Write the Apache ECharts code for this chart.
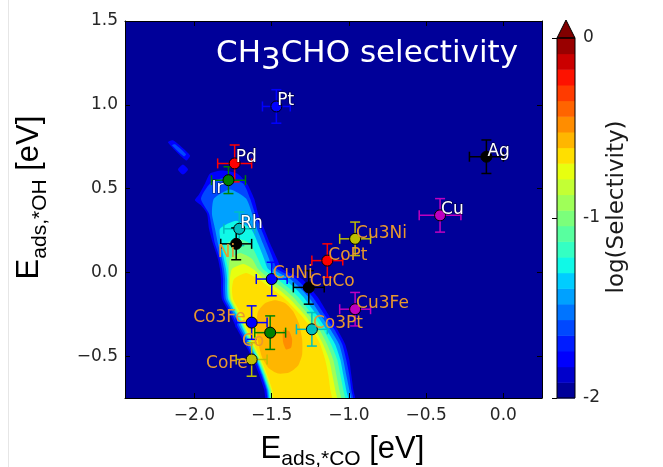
<!DOCTYPE html>
<html>
<head>
    <meta charset="UTF-8">
    <title>CH3CHO selectivity</title>
    <style>html,body{margin:0;background:#fff;}</style>
</head>
<body>
    <div id="main" style="width: 663px;height:467px;"></div>
    <script src="https://cdn.jsdelivr.net/npm/echarts@6/dist/echarts.min.js"></script>
    <script type="text/javascript">
        // catalysts: adsorption energies (eV) and error bars
        const metals = ['Pt', 'Pd', 'Ir', 'Ag', 'Rh', 'Ni', 'Cu', 'Cu3Ni', 'CoPt', 'CuNi', 'CuCo', 'Cu3Fe', 'Co3Fe', 'Co', 'Co3Pt', 'CoFe'];
        const eCO  = [-1.47, -1.74, -1.78, -0.11, -1.71, -1.73, -0.41, -0.96, -1.14, -1.50, -1.26, -0.96, -1.63, -1.51, -1.24, -1.63];
        const eOH  = [0.99, 0.65, 0.55, 0.69, 0.26, 0.17, 0.34, 0.20, 0.07, -0.04, -0.09, -0.22, -0.30, -0.36, -0.34, -0.52];
        const errCO = [0.09, 0.11, 0.11, 0.11, 0.10, 0.10, 0.135, 0.10, 0.10, 0.10, 0.10, 0.10, 0.10, 0.10, 0.10, 0.10];
        const errOH = [0.10, 0.11, 0.08, 0.10, 0.10, 0.095, 0.10, 0.10, 0.10, 0.10, 0.10, 0.10, 0.10, 0.10, 0.10, 0.10];

        const xTicks = [-2.0, -1.5, -1.0, -0.5, 0.0];
        const yTicks = [-0.5, 0.0, 0.5, 1.0, 1.5];

        // contour levels of log(selectivity)
        const levels = [-2.000, -1.913, -1.826, -1.739, -1.652, -1.565, -1.478, -1.391, -1.304, -1.217, -1.130, -1.043,
            -0.957, -0.870, -0.783, -0.696, -0.609, -0.522, -0.435, -0.348, -0.261, -0.174, -0.087, 0.000];

        // filled contour outlines (E_CO, E_OH), outer to inner
        const c2 = [[-1.822,0.608],[-1.724,0.59],[-1.660,0.53],[-1.614,0.44],[-1.588,0.35],[-1.549,0.26],[-1.510,0.17],[-1.465,0.08],[-1.433,0.02],[-1.303,-0.04],[-1.245,-0.10],[-1.193,-0.16],[-1.134,-0.25],[-1.076,-0.34],[-1.024,-0.43],[-0.998,-0.52],[-0.985,-0.61],[-0.972,-0.70],[-0.959,-0.80],[-1.523,-0.80],[-1.549,-0.70],[-1.582,-0.61],[-1.621,-0.52],[-1.672,-0.43],[-1.724,-0.34],[-1.770,-0.25],[-1.822,-0.16],[-1.828,-0.10],[-1.828,-0.04],[-1.835,0.02],[-1.848,0.08],[-1.880,0.17],[-1.906,0.26],[-1.919,0.35],[-1.958,0.40],[-1.997,0.43],[-1.971,0.464],[-1.932,0.53],[-1.899,0.59]];
        const c4 = [[-1.802,0.566],[-1.685,0.53],[-1.640,0.44],[-1.608,0.35],[-1.569,0.26],[-1.530,0.17],[-1.491,0.08],[-1.465,0.02],[-1.342,-0.04],[-1.277,-0.10],[-1.225,-0.16],[-1.160,-0.25],[-1.095,-0.34],[-1.043,-0.43],[-1.018,-0.52],[-0.998,-0.61],[-0.985,-0.70],[-0.972,-0.80],[-1.510,-0.80],[-1.536,-0.70],[-1.569,-0.61],[-1.608,-0.52],[-1.660,-0.43],[-1.711,-0.34],[-1.757,-0.25],[-1.809,-0.16],[-1.815,-0.10],[-1.815,-0.04],[-1.822,0.02],[-1.835,0.08],[-1.867,0.17],[-1.887,0.26],[-1.906,0.35],[-1.958,0.44],[-1.899,0.53]];
        const c6 = [[-1.770,0.494],[-1.666,0.44],[-1.627,0.35],[-1.595,0.26],[-1.556,0.17],[-1.517,0.08],[-1.491,0.02],[-1.381,-0.04],[-1.309,-0.10],[-1.251,-0.16],[-1.186,-0.25],[-1.121,-0.34],[-1.063,-0.43],[-1.037,-0.52],[-1.018,-0.61],[-0.998,-0.70],[-0.985,-0.80],[-1.504,-0.80],[-1.530,-0.70],[-1.562,-0.61],[-1.601,-0.52],[-1.647,-0.43],[-1.698,-0.34],[-1.744,-0.25],[-1.796,-0.16],[-1.802,-0.10],[-1.802,-0.04],[-1.809,0.02],[-1.822,0.08],[-1.848,0.17],[-1.867,0.26],[-1.887,0.35],[-1.874,0.44]];
        const c8 = [[-1.731,0.308],[-1.634,0.26],[-1.588,0.17],[-1.549,0.08],[-1.523,0.02],[-1.420,-0.04],[-1.342,-0.10],[-1.284,-0.16],[-1.212,-0.25],[-1.147,-0.34],[-1.089,-0.43],[-1.056,-0.52],[-1.037,-0.61],[-1.018,-0.70],[-1.004,-0.80],[-1.497,-0.80],[-1.523,-0.70],[-1.556,-0.61],[-1.595,-0.52],[-1.640,-0.43],[-1.685,-0.34],[-1.731,-0.25],[-1.783,-0.16],[-1.789,-0.10],[-1.789,-0.04],[-1.796,0.02],[-1.809,0.08],[-1.828,0.17],[-1.835,0.26]];
        const c10 = [[-1.718,0.20],[-1.640,0.17],[-1.588,0.08],[-1.556,0.02],[-1.465,-0.04],[-1.381,-0.10],[-1.316,-0.16],[-1.238,-0.25],[-1.167,-0.34],[-1.115,-0.43],[-1.076,-0.52],[-1.056,-0.61],[-1.037,-0.70],[-1.024,-0.80],[-1.491,-0.80],[-1.517,-0.70],[-1.549,-0.61],[-1.588,-0.52],[-1.634,-0.43],[-1.679,-0.34],[-1.724,-0.25],[-1.776,-0.16],[-1.783,-0.10],[-1.783,-0.04],[-1.783,0.02],[-1.796,0.08],[-1.796,0.17]];
        const c12 = [[-1.705,0.116],[-1.627,0.08],[-1.588,0.02],[-1.510,-0.04],[-1.420,-0.10],[-1.348,-0.16],[-1.264,-0.25],[-1.193,-0.34],[-1.141,-0.43],[-1.102,-0.52],[-1.082,-0.61],[-1.063,-0.70],[-1.050,-0.80],[-1.484,-0.80],[-1.510,-0.70],[-1.543,-0.61],[-1.582,-0.52],[-1.627,-0.43],[-1.672,-0.34],[-1.718,-0.25],[-1.770,-0.16],[-1.776,-0.10],[-1.776,-0.04],[-1.776,0.02],[-1.770,0.08]];
        const c14 = [[-1.685,0.05],[-1.621,0.02],[-1.549,-0.04],[-1.458,-0.10],[-1.381,-0.16],[-1.290,-0.25],[-1.219,-0.34],[-1.167,-0.43],[-1.128,-0.52],[-1.108,-0.61],[-1.089,-0.70],[-1.076,-0.80],[-1.478,-0.80],[-1.504,-0.70],[-1.536,-0.61],[-1.575,-0.52],[-1.621,-0.43],[-1.666,-0.34],[-1.711,-0.25],[-1.763,-0.16],[-1.770,-0.10],[-1.770,-0.04],[-1.757,0.02]];
        const c15 = [[-1.666,-0.004],[-1.588,-0.04],[-1.497,-0.10],[-1.413,-0.16],[-1.316,-0.25],[-1.238,-0.34],[-1.186,-0.43],[-1.154,-0.52],[-1.134,-0.61],[-1.121,-0.70],[-1.108,-0.80],[-1.471,-0.80],[-1.497,-0.70],[-1.530,-0.61],[-1.569,-0.52],[-1.614,-0.43],[-1.660,-0.34],[-1.698,-0.25],[-1.750,-0.16],[-1.757,-0.10],[-1.744,-0.04]];
        const c16 = [[-1.588,-0.232],[-1.543,-0.184],[-1.478,-0.166],[-1.413,-0.184],[-1.361,-0.232],[-1.322,-0.31],[-1.303,-0.40],[-1.303,-0.49],[-1.329,-0.556],[-1.387,-0.598],[-1.458,-0.604],[-1.517,-0.574],[-1.562,-0.508],[-1.588,-0.418],[-1.601,-0.322]];
        const c17 = [[-1.426,-0.346],[-1.387,-0.352],[-1.368,-0.40],[-1.374,-0.448],[-1.407,-0.46],[-1.426,-0.418]];
        const blobA = [[-2.172,0.776],[-2.139,0.788],[-2.029,0.698],[-2.055,0.668]];
        const blobAin = [[-2.146,0.758],[-2.126,0.764],[-2.055,0.704],[-2.068,0.692]];
        const blobB = [[-2.075,0.644],[-2.042,0.614],[-2.075,0.584],[-2.107,0.614]];

        // which level each outline bounds (index into levels)
        const contours = [
            {k: 2, pts: blobA}, {k: 4, pts: blobAin}, {k: 2, pts: blobB},
            {k: 2, pts: c2}, {k: 4, pts: c4}, {k: 6, pts: c6}, {k: 8, pts: c8},
            {k: 10, pts: c10}, {k: 12, pts: c12}, {k: 14, pts: c14}, {k: 15, pts: c15},
            {k: 16, pts: c16}, {k: 17, pts: c17}
        ];

        // matplotlib jet colormap
        const JET = {
            r: [[0, 0], [0.35, 0], [0.66, 1], [0.89, 1], [1, 0.5]],
            g: [[0, 0], [0.125, 0], [0.375, 1], [0.64, 1], [0.91, 0], [1, 0]],
            b: [[0, 0.5], [0.11, 1], [0.34, 1], [0.65, 0], [1, 0]]
        };
        function chan(seg, t) {
            for (let i = 1; i < seg.length; i++) {
                if (t <= seg[i][0]) {
                    const a = seg[i - 1], b = seg[i];
                    return a[1] + (b[1] - a[1]) * (t - a[0]) / (b[0] - a[0]);
                }
            }
            return seg[seg.length - 1][1];
        }
        function jet(t) {
            return 'rgb(' + ['r', 'g', 'b'].map(c => Math.round(255 * chan(JET[c], t))).join(',') + ')';
        }
        const nBands = levels.length - 1;
        function bandColor(k) { return jet((k + 0.5) / nBands); }

        const markerColor = {
            Pt: '#0000ff', Pd: '#ff0000', Ir: '#008000', Ag: '#000000', Rh: '#00bfbf', Ni: '#000000',
            Cu: '#bf00bf', Cu3Ni: '#bfbf00', CoPt: '#ff0000', CuNi: '#0000ff', CuCo: '#000000',
            Cu3Fe: '#bf00bf', Co3Fe: '#0000ff', Co: '#008000', Co3Pt: '#00bfbf', CoFe: '#bfbf00'
        };
        const whiteLabels = ['Pt', 'Pd', 'Ir', 'Ag', 'Rh', 'Cu'];
        // label placement: ur = right/above, ll = left/below, ul = left/above
        const labelSide = {Ir: ['ll', -5, 0], Ni: ['ll', -1, 0], Co: ['ll', -6, 0], CoFe: ['ll', -4, -4], Co3Fe: ['ul', -6, 3]};

        function fmt(v) {
            return (v < 0 ? '\u2212' : '') + Math.abs(v).toFixed(1);
        }

        var myChart = echarts.init(document.getElementById('main'));

        const scatterData = metals.map(function (m, i) {
            const side = labelSide[m] || ['ur', 1, 3];
            const white = whiteLabels.indexOf(m) >= 0;
            return {
                name: m,
                value: [eCO[i], eOH[i]],
                itemStyle: {color: markerColor[m]},
                label: {
                    align: side[0] === 'ur' ? 'left' : 'right',
                    verticalAlign: side[0] === 'll' ? 'top' : 'bottom',
                    offset: [side[1], side[2]],
                    color: white ? '#ffffff' : '#e8982e',
                    textBorderColor: white ? 'rgba(0,0,0,0.45)' : 'transparent',
                    textBorderWidth: white ? 1.5 : 0
                }
            };
        });

        const tickFont = {fontSize: 17, fontFamily: 'DejaVu Sans', color: '#262626'};
        // main text on a 32px line padded to 53, subscript centred lower on a 53px line
        const nameRich = {
            e: {fontSize: 31, lineHeight: 32, padding: [0, 0, 21, 0], fontFamily: 'Liberation Sans', color: '#000'},
            s: {fontSize: 21, lineHeight: 53, fontFamily: 'Liberation Sans', color: '#000'}
        };

        let option = {
            backgroundColor: '#ffffff',
            animation: false,
            title: {
                text: '{a|CH}{b|3}{a|CHO selectivity}',
                left: 216,
                top: 38,
                padding: 0,
                textStyle: {
                    fontWeight: 'normal',
                    rich: {
                        a: {fontSize: 31, lineHeight: 32, padding: [0, 0, 14, 0], fontWeight: 'normal', color: '#ffffff', fontFamily: 'DejaVu Sans'},
                        b: {fontSize: 31, lineHeight: 46, fontWeight: 'normal', color: '#ffffff', fontFamily: 'DejaVu Sans'}
                    }
                },
                z: 20
            },
            grid: [
                {left: 125, right: 121, top: 21, bottom: 69, show: true, backgroundColor: bandColor(0), borderWidth: 0, outerBoundsMode: 'none', containLabel: false},
                {left: 557, right: 88, top: 38, bottom: 69, outerBoundsMode: 'none', containLabel: false}
            ],
            xAxis: [
                {
                    gridIndex: 0, type: 'value', min: -2.45, max: 0.25, position: 'bottom', z: 10,
                    axisLine: {show: true, onZero: false, lineStyle: {color: '#000', width: 1}},
                    axisTick: {show: true, inside: true, length: 5, customValues: xTicks, lineStyle: {color: '#000'}},
                    axisLabel: Object.assign({customValues: xTicks, formatter: fmt, margin: 9}, tickFont),
                    splitLine: {show: false},
                    name: '{e|E}{s|ads,*CO}{e| [eV]}',
                    nameLocation: 'middle',
                    nameGap: 35,
                    nameTextStyle: {padding: [0, 0, 0, 18], rich: nameRich}
                },
                {
                    gridIndex: 0, type: 'value', min: -2.45, max: 0.25, position: 'top', z: 10,
                    axisLine: {show: true, onZero: false, lineStyle: {color: '#000', width: 1}},
                    axisTick: {show: true, inside: true, length: 5, customValues: xTicks, lineStyle: {color: '#000'}},
                    axisLabel: {show: false},
                    splitLine: {show: false}
                },
                {gridIndex: 1, type: 'value', min: 0, max: 1, show: false}
            ],
            yAxis: [
                {
                    gridIndex: 0, type: 'value', min: -0.75, max: 1.5, position: 'left', z: 10,
                    axisLine: {show: true, onZero: false, lineStyle: {color: '#000', width: 1}},
                    axisTick: {show: true, inside: true, length: 5, customValues: yTicks, lineStyle: {color: '#000'}},
                    axisLabel: Object.assign({customValues: yTicks, formatter: fmt, margin: 7}, tickFont),
                    splitLine: {show: false},
                    name: '{e|E}{s|ads,*OH}{e| [eV]}',
                    nameLocation: 'middle',
                    nameRotate: 90,
                    nameGap: 42,
                    nameTextStyle: {padding: [0, 0, 0, 24], rich: nameRich}
                },
                {
                    gridIndex: 0, type: 'value', min: -0.75, max: 1.5, position: 'right', z: 10,
                    axisLine: {show: true, onZero: false, lineStyle: {color: '#000', width: 1}},
                    axisTick: {show: true, inside: true, length: 5, customValues: yTicks, lineStyle: {color: '#000'}},
                    axisLabel: {show: false},
                    splitLine: {show: false}
                },
                {
                    gridIndex: 1, type: 'value', min: -2, max: 0, interval: 1, position: 'right', z: 10,
                    axisLine: {show: false},
                    axisTick: {show: true, inside: true, length: 5, lineStyle: {color: '#000'}},
                    axisLabel: Object.assign({formatter: v => String(v), margin: 8}, tickFont),
                    splitLine: {show: false},
                    name: 'log(Selectivity)',
                    nameLocation: 'middle',
                    nameRotate: 90,
                    nameGap: 31,
                    nameTextStyle: {fontSize: 23, fontFamily: 'DejaVu Sans', color: '#1a1a1a', padding: [0, 0, 0, 22]}
                }
            ],
            series: [
                {
                    // filled contours
                    type: 'custom',
                    xAxisIndex: 0, yAxisIndex: 0,
                    clip: true,
                    z: 1,
                    silent: true,
                    data: contours.map((c, i) => [c.pts[0][0], c.pts[0][1], i]),
                    renderItem: function (params, api) {
                        const c = contours[params.dataIndex];
                        return {
                            type: 'polygon',
                            shape: {points: c.pts.map(p => api.coord(p)), smooth: 0.2},
                            style: {fill: bandColor(c.k), stroke: null}
                        };
                    }
                },
                {
                    // error bars
                    type: 'custom',
                    xAxisIndex: 0, yAxisIndex: 0,
                    z: 3,
                    silent: true,
                    data: metals.map((m, i) => [eCO[i], eOH[i], errCO[i], errOH[i]]),
                    renderItem: function (params, api) {
                        const x = api.value(0), y = api.value(1), ex = api.value(2), ey = api.value(3);
                        const l = api.coord([x - ex, y]), r = api.coord([x + ex, y]);
                        const t = api.coord([x, y + ey]), b = api.coord([x, y - ey]);
                        const st = {stroke: markerColor[metals[params.dataIndex]], lineWidth: 1.5};
                        const cap = 5;
                        return {
                            type: 'group',
                            children: [
                                {type: 'line', shape: {x1: l[0], y1: l[1], x2: r[0], y2: r[1]}, style: st},
                                {type: 'line', shape: {x1: t[0], y1: t[1], x2: b[0], y2: b[1]}, style: st},
                                {type: 'line', shape: {x1: l[0], y1: l[1] - cap, x2: l[0], y2: l[1] + cap}, style: st},
                                {type: 'line', shape: {x1: r[0], y1: r[1] - cap, x2: r[0], y2: r[1] + cap}, style: st},
                                {type: 'line', shape: {x1: t[0] - cap, y1: t[1], x2: t[0] + cap, y2: t[1]}, style: st},
                                {type: 'line', shape: {x1: b[0] - cap, y1: b[1], x2: b[0] + cap, y2: b[1]}, style: st}
                            ]
                        };
                    }
                },
                {
                    type: 'scatter',
                    xAxisIndex: 0, yAxisIndex: 0,
                    z: 4,
                    symbolSize: 11,
                    itemStyle: {borderColor: '#000', borderWidth: 1, opacity: 1},
                    label: {show: true, position: 'inside', formatter: '{b}', fontSize: 17, fontFamily: 'DejaVu Sans'},
                    data: scatterData
                },
                {
                    // colorbar bands
                    type: 'custom',
                    xAxisIndex: 2, yAxisIndex: 2,
                    z: 2,
                    silent: true,
                    data: levels.slice(0, nBands).map((lv, k) => [0, lv, k]),
                    renderItem: function (params, api) {
                        const k = params.dataIndex;
                        const p0 = api.coord([0, levels[k + 1]]), p1 = api.coord([1, levels[k]]);
                        return {
                            type: 'rect',
                            shape: {x: p0[0], y: p0[1], width: p1[0] - p0[0], height: p1[1] - p0[1] + 0.5},
                            style: {fill: bandColor(k)}
                        };
                    }
                },
                {
                    // colorbar frame with the 'max' extension triangle
                    type: 'custom',
                    xAxisIndex: 2, yAxisIndex: 2,
                    z: 5,
                    silent: true,
                    data: [[0, 0]],
                    renderItem: function (params, api) {
                        const a = api.coord([0, 0]), b = api.coord([1, -2]);
                        const w = b[0] - a[0];
                        return {
                            type: 'group',
                            children: [
                                {type: 'polygon', shape: {points: [[a[0], a[1]], [b[0], a[1]], [a[0] + w / 2, a[1] - 18]]},
                                    style: {fill: jet(1), stroke: '#000', lineWidth: 1}},
                                {type: 'rect', shape: {x: a[0], y: a[1], width: w, height: b[1] - a[1]},
                                    style: {fill: null, stroke: '#000', lineWidth: 1}}
                            ]
                        };
                    }
                }
            ],
            graphic: [
                {type: 'line', shape: {x1: 8.5, y1: 0, x2: 8.5, y2: 467}, style: {stroke: '#e6e6e6', lineWidth: 1}, silent: true}
            ]
        };

        myChart.setOption(option);
    </script>
</body>
</html>
